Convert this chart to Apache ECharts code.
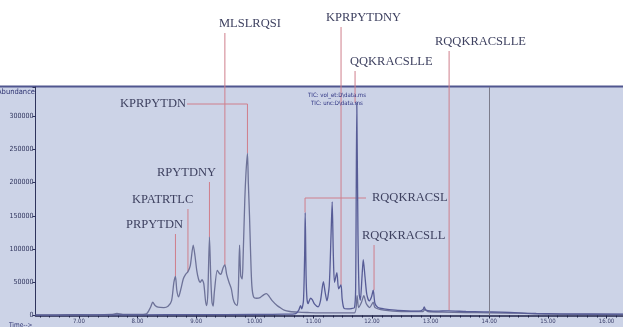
<!DOCTYPE html>
<html><head><meta charset="utf-8">
<script src="https://cdn.jsdelivr.net/npm/echarts@6/dist/echarts.min.js"></script>
<style>html,body{margin:0;padding:0;background:#fff}#c{width:623px;height:327px}</style>
</head><body><div id="c"></div>
<script>
// ---- data ----
const xTickValues = [7, 8, 9, 10, 11, 12, 13, 14, 15, 16];
const xTickLabels = ['7.00', '8.00', '9.00', '10.00', '11.00', '12.00', '13.00', '14.00', '15.00', '16.00'];
const yTickLabels = ['0', '50000', '100000', '150000', '200000', '250000', '300000'];

const traceATime = [6.26,6.6,7.0,7.3,7.55,7.65,7.75,8.0,8.15,8.22,8.26,8.30,8.35,8.45,8.52,8.58,8.62,8.647,8.67,8.70,8.74,8.78,8.82,8.86,8.90,8.95,8.98,9.01,9.04,9.07,9.10,9.13,9.16,9.18,9.20,9.227,9.25,9.27,9.29,9.31,9.36,9.39,9.42,9.46,9.49,9.52,9.56,9.60,9.63,9.66,9.70,9.72,9.74,9.76,9.785,9.80,9.83,9.85,9.875,9.89,9.91,9.93,9.95,9.98,10.03,10.09,10.15,10.20,10.25,10.30,10.38,10.43,10.50,10.6,10.75,10.9,11.1,11.4,11.7,11.745,11.77,11.82,11.86,11.90,11.96,12.02,12.05,12.2,12.5,12.87,12.9,12.95,13.2,13.6,14.0,14.5,15.0,15.5,16.28];
const traceAAbund = [800,1000,1200,900,1500,3000,1500,1500,2500,12000,20000,15000,12500,12000,14000,22000,50000,59000,38000,28000,40000,55000,62000,66000,75000,106000,90000,68000,55000,50000,54000,48000,22000,15000,35000,118000,55000,20000,14000,35000,68000,64000,62000,72000,76000,62000,50000,40000,25000,18000,15000,40000,106000,60000,55000,85000,175000,215000,244000,200000,150000,90000,45000,28000,26000,27000,31000,33000,28000,22000,15000,12000,8000,6000,5000,4500,4000,4000,4000,30000,12000,20000,30000,18000,12000,20000,12000,8000,6000,6000,9000,6000,5000,4500,4000,3500,2000,1800,1500];

const traceBTime = [6.26,7.0,8.0,9.0,10.0,10.5,10.7,10.75,10.78,10.80,10.83,10.85,10.86,10.875,10.89,10.91,10.95,10.98,11.02,11.08,11.12,11.17,11.20,11.23,11.27,11.30,11.32,11.34,11.36,11.40,11.43,11.47,11.49,11.52,11.58,11.65,11.70,11.72,11.74,11.76,11.78,11.80,11.83,11.85,11.88,11.91,11.95,11.99,12.02,12.05,12.1,12.2,12.4,12.6,12.8,12.87,12.89,12.92,13.1,13.3,13.6,13.9,14.2,14.5,14.8,15.2,16.28];
const traceBAbund = [500,800,1000,1200,1500,2000,3000,8000,15000,10000,22000,90000,155000,60000,25000,18000,26000,24000,17000,13000,22000,51000,35000,22000,45000,120000,171000,90000,50000,64500,40000,46000,25000,11000,10000,10500,12000,40000,320000,120000,33000,23000,60000,84000,58000,32000,22000,28000,38000,18000,12000,10000,8000,7000,6500,9000,13000,8000,6500,7000,6000,5500,5000,4000,3000,2500,2000];

const annoNames = ['PRPYTDN','KPATRTLC','RPYTDNY','KPRPYTDN','MLSLRQSI','KPRPYTDNY','QQKRACSLLE','RQQKRACSLLE','RQQKRACSL','RQQKRACSLL'];
const annoTimes = [8.647, 8.86, 9.227, 9.875, 9.49, 11.471, 11.71, 13.314, 10.857, 12.034];
const annoAbund = [59000, 66000, 118000, 244000, 76000, 46000, 320000, 8000, 155000, 38000];

const marker14 = 14;
const legendLines = ['TIC: vol_et:D\\data.ms', 'TIC: unc:D\\data.ms'];

// ---- layout (pixels) for annotation labels ----
const annoLayout = [
  {tx:126, ty:225},
  {tx:132, ty:200},
  {tx:157, ty:173},
  {tx:120, ty:104, elbowFrom:187},
  {tx:219, ty:24},
  {tx:326, ty:18},
  {tx:350, ty:62},
  {tx:435, ty:42},
  {tx:372, ty:198, elbowFrom:366},
  {tx:362, ty:236}
];

const toPairs = (t, v) => t.map((x, i) => [x, v[i]]);
const xMinorTicks = [];
for (let m = 6; m <= 16.3; m++) for (let k = 0; k < 6; k++) { const v = m + k / 6; if (v > 6.27 && v < 16.27 && k !== 0) xMinorTicks.push(v); }

const chart = echarts.init(document.getElementById('c'), null, {renderer: 'canvas'});
const lineRed = '#cf7f8c';
const txtColor = '#3e4160';

chart.setOption({
  animation: false,
  backgroundColor: '#ffffff',
  graphic: [
    {type: 'rect', z: -10, shape: {x: 0, y: 86, width: 623, height: 241}, style: {fill: '#ccd3e7'}},
    {type: 'line', z: -9, shape: {x1: 0, y1: 86.5, x2: 623, y2: 86.5}, style: {stroke: '#50568f', lineWidth: 2}},
    {type: 'text', z: 10, style: {text: 'Abundance', x: 35, y: 92, align: 'right', verticalAlign: 'middle', font: '7.5px "DejaVu Sans Condensed"', fill: '#2c3170'}},
    {type: 'text', z: 10, style: {text: 'Time-->', x: 9, y: 325, align: 'left', verticalAlign: 'middle', font: '6.5px "DejaVu Sans Condensed"', fill: '#2c3170'}},
    {type: 'text', z: 10, style: {text: legendLines[0], x: 308, y: 95, align: 'left', verticalAlign: 'middle', font: '6px "DejaVu Sans Condensed"', fill: '#2c3180'}},
    {type: 'text', z: 10, style: {text: legendLines[1], x: 311, y: 103, align: 'left', verticalAlign: 'middle', font: '6px "DejaVu Sans Condensed"', fill: '#2c3180'}}
  ],
  grid: {left: 35.5, right: 0, top: 87, bottom: 11.5, containLabel: false},
  xAxis: [{
    type: 'value', min: 6.26, max: 16.28,
    axisLine: {show: true, lineStyle: {color: '#1e2248', width: 1.5}},
    axisTick: {show: true, customValues: xTickValues, length: 3, lineStyle: {color: '#1e2248'}},
    axisLabel: {show: true, customValues: xTickValues, margin: 3, fontSize: 6, fontFamily: 'DejaVu Sans Condensed', color: '#3a3f6a',
      formatter: v => xTickLabels[xTickValues.indexOf(Math.round(v))] || ''},
    splitLine: {show: false}
  }, {
    type: 'value', min: 6.26, max: 16.28, position: 'bottom',
    axisLine: {show: false},
    axisTick: {show: true, customValues: xMinorTicks, length: 2, lineStyle: {color: '#1e2248'}},
    axisLabel: {show: false},
    splitLine: {show: false}
  }],
  yAxis: {
    type: 'value', min: 0, max: 344000, interval: 50000,
    axisLine: {show: true, lineStyle: {color: '#2e335c', width: 1}},
    axisTick: {show: true, length: 3, lineStyle: {color: '#2e335c'}},
    axisLabel: {margin: 2, fontSize: 7, fontFamily: 'DejaVu Sans Condensed', color: '#2e335c',
      formatter: v => yTickLabels[Math.round(v / 50000)] || ''},
    splitLine: {show: false}
  },
  series: [
    {
      type: 'custom', z: 1, clip: false, silent: true,
      data: annoTimes.map((t, i) => [t, annoAbund[i]]),
      renderItem: (params, api) => {
        const i = params.dataIndex;
        const L = annoLayout[i];
        const p = api.coord([api.value(0), api.value(1)]);
        const children = [];
        let pts;
        if (L.elbowFrom !== undefined) {
          pts = [[L.elbowFrom, L.ty], [p[0], L.ty], [p[0], p[1]]];
        } else {
          pts = [[p[0], L.ty + 9], [p[0], p[1]]];
        }
        children.push({type: 'polyline', shape: {points: pts}, style: {stroke: lineRed, lineWidth: 1, fill: null}});
        children.push({type: 'text', style: {text: annoNames[i], x: L.tx, y: L.ty, align: 'left', verticalAlign: 'middle',
          font: '12.5px "Liberation Serif"', fill: txtColor}});
        return {type: 'group', children};
      }
    },
    {
      name: legendLines[0], type: 'line', z: 3, data: toPairs(traceATime, traceAAbund),
      showSymbol: false, smooth: 0.25, lineStyle: {color: '#6d7298', width: 1.3},
      markLine: {silent: true, symbol: 'none', label: {show: false},
        lineStyle: {color: '#7c7c8c', width: 1, type: 'solid'}, data: [{xAxis: marker14}]}
    },
    {
      name: legendLines[1], type: 'line', z: 4, data: toPairs(traceBTime, traceBAbund),
      showSymbol: false, smooth: 0.25, lineStyle: {color: '#575c96', width: 1.3}
    }
  ]
});
</script></body></html>
